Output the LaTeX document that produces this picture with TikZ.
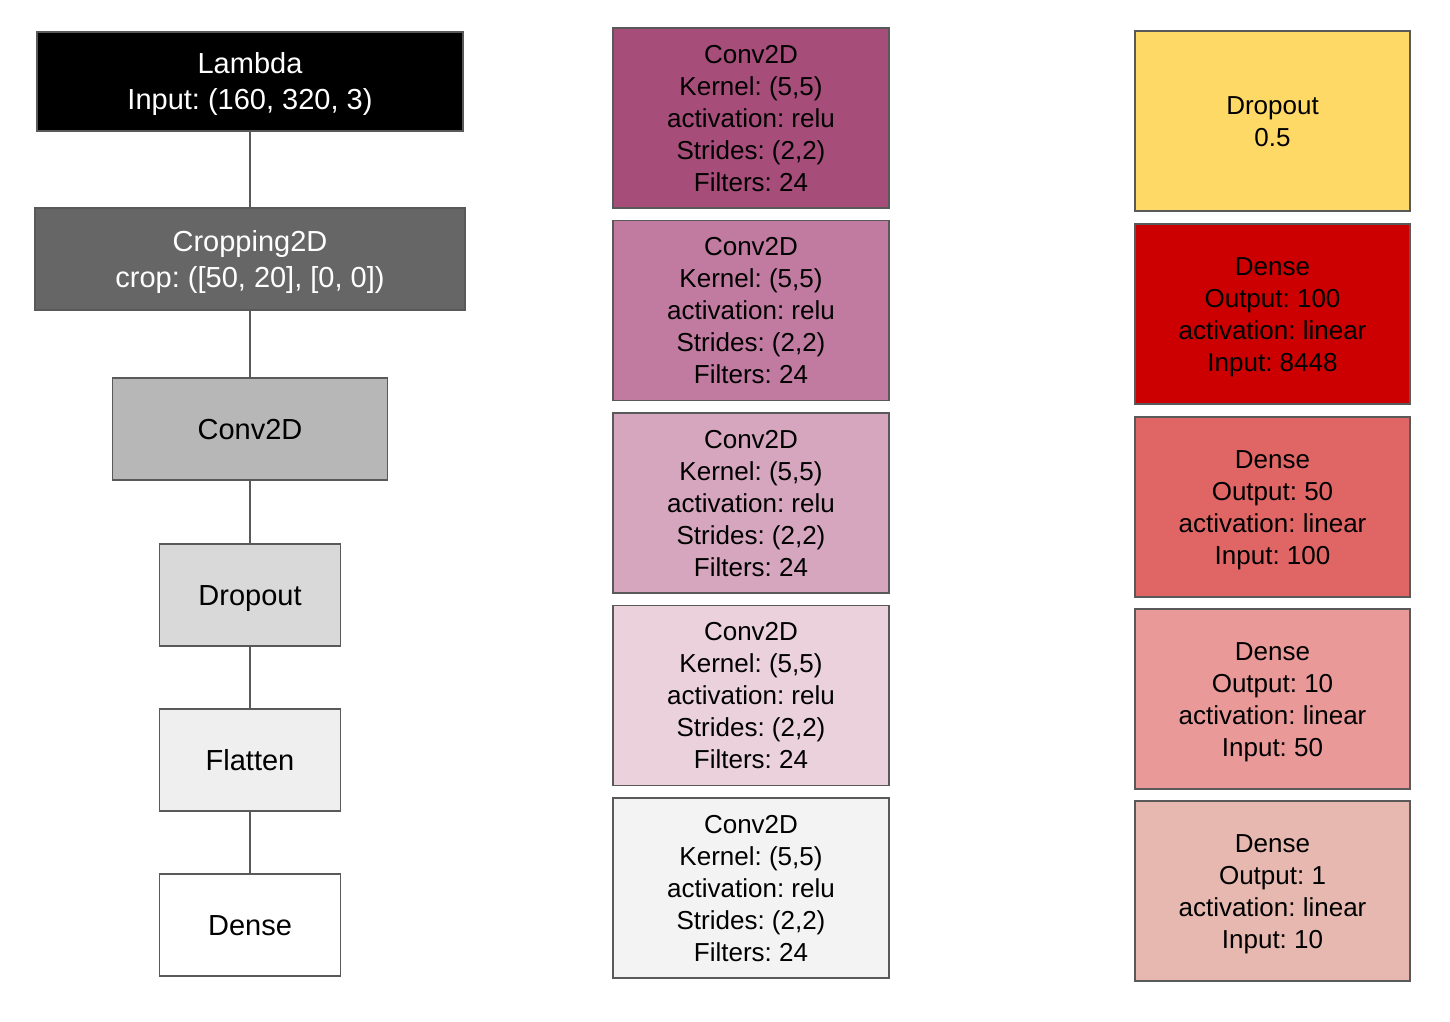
\documentclass[tikz,border=0pt]{standalone}
\usepackage{fontspec}
\setmainfont{Liberation Sans}
\frenchspacing
\newcommand\lowtxt[1]{\raisebox{-3pt}[\height][\depth]{\begin{tabular}{@{}c@{}}#1\end{tabular}}}
\definecolor{bordc}{HTML}{595959}
\definecolor{cA}{HTML}{666666}
\definecolor{cB}{HTML}{B7B7B7}
\definecolor{cC}{HTML}{D9D9D9}
\definecolor{cD}{HTML}{EFEFEF}
\definecolor{m1}{HTML}{A64D79}
\definecolor{m2}{HTML}{C27BA0}
\definecolor{m3}{HTML}{D5A6BD}
\definecolor{m4}{HTML}{EAD1DC}
\definecolor{m5}{HTML}{F3F3F3}
\definecolor{r1}{HTML}{FFD966}
\definecolor{r2}{HTML}{CC0000}
\definecolor{r3}{HTML}{E06666}
\definecolor{r4}{HTML}{EA9999}
\definecolor{r5}{HTML}{E6B8AF}
\begin{document}
\begin{tikzpicture}[x=1pt,y=-1pt,
  lbox/.style={draw=bordc,line width=1.5pt,inner sep=0pt,
    font=\fontsize{29}{36}\selectfont\frenchspacing},
  cbox/.style={draw=bordc,line width=1.5pt,inner sep=0pt,
    minimum width=276pt,minimum height=180pt,font=\fontsize{26}{32}\selectfont\frenchspacing},
  link/.style={draw=bordc,line width=1.3pt}]
\useasboundingbox (0,0) rectangle (1450,1021);
% left column
\node[lbox,fill=black,text=white,minimum width=426pt,minimum height=99pt] (lam) at (250,81.5) {\lowtxt{Lambda\\Input: (160, 320, 3)}};
\node[lbox,fill=cA,text=white,minimum width=430pt,minimum height=102pt] (crop) at (250,259) {\lowtxt{Cropping2D\\crop: ([50, 20], [0, 0])}};
\node[lbox,fill=cB,minimum width=275pt,minimum height=102pt] (conv) at (250,429) {\lowtxt{Conv2D}};
\node[lbox,fill=cC,minimum width=181pt,minimum height=102pt] (drop) at (250,595) {\lowtxt{Dropout}};
\node[lbox,fill=cD,minimum width=181pt,minimum height=102pt] (flat) at (250,760) {\lowtxt{Flatten}};
\node[lbox,fill=white,minimum width=181pt,minimum height=102pt] (dense) at (250,925) {\lowtxt{Dense}};
\draw[link] (lam) -- (crop);
\draw[link] (crop) -- (conv);
\draw[link] (conv) -- (drop);
\draw[link] (drop) -- (flat);
\draw[link] (flat) -- (dense);
% middle column
\node[cbox,fill=m1] (c1) at (751,118) {\lowtxt{Conv2D\\Kernel: (5,5)\\activation: relu\\Strides: (2,2)\\Filters: 24}};
\node[cbox,fill=m2] (c2) at (751,310.5) {\lowtxt{Conv2D\\Kernel: (5,5)\\activation: relu\\Strides: (2,2)\\Filters: 24}};
\node[cbox,fill=m3] (c3) at (751,503) {\lowtxt{Conv2D\\Kernel: (5,5)\\activation: relu\\Strides: (2,2)\\Filters: 24}};
\node[cbox,fill=m4] (c4) at (751,695.5) {\lowtxt{Conv2D\\Kernel: (5,5)\\activation: relu\\Strides: (2,2)\\Filters: 24}};
\node[cbox,fill=m5] (c5) at (751,888) {\lowtxt{Conv2D\\Kernel: (5,5)\\activation: relu\\Strides: (2,2)\\Filters: 24}};
% right column
\node[cbox,fill=r1,minimum width=275pt] (d0) at (1272.5,121) {\lowtxt{Dropout\\0.5}};
\node[cbox,fill=r2,minimum width=275pt] (d1) at (1272.5,314) {\lowtxt{Dense\\Output: 100\\activation: linear\\Input: 8448}};
\node[cbox,fill=r3,minimum width=275pt] (d2) at (1272.5,507) {\lowtxt{Dense\\Output: 50\\activation: linear\\Input: 100}};
\node[cbox,fill=r4,minimum width=275pt] (d3) at (1272.5,699) {\lowtxt{Dense\\Output: 10\\activation: linear\\Input: 50}};
\node[cbox,fill=r5,minimum width=275pt] (d4) at (1272.5,891) {\lowtxt{Dense\\Output: 1\\activation: linear\\Input: 10}};
\end{tikzpicture}
\end{document}
